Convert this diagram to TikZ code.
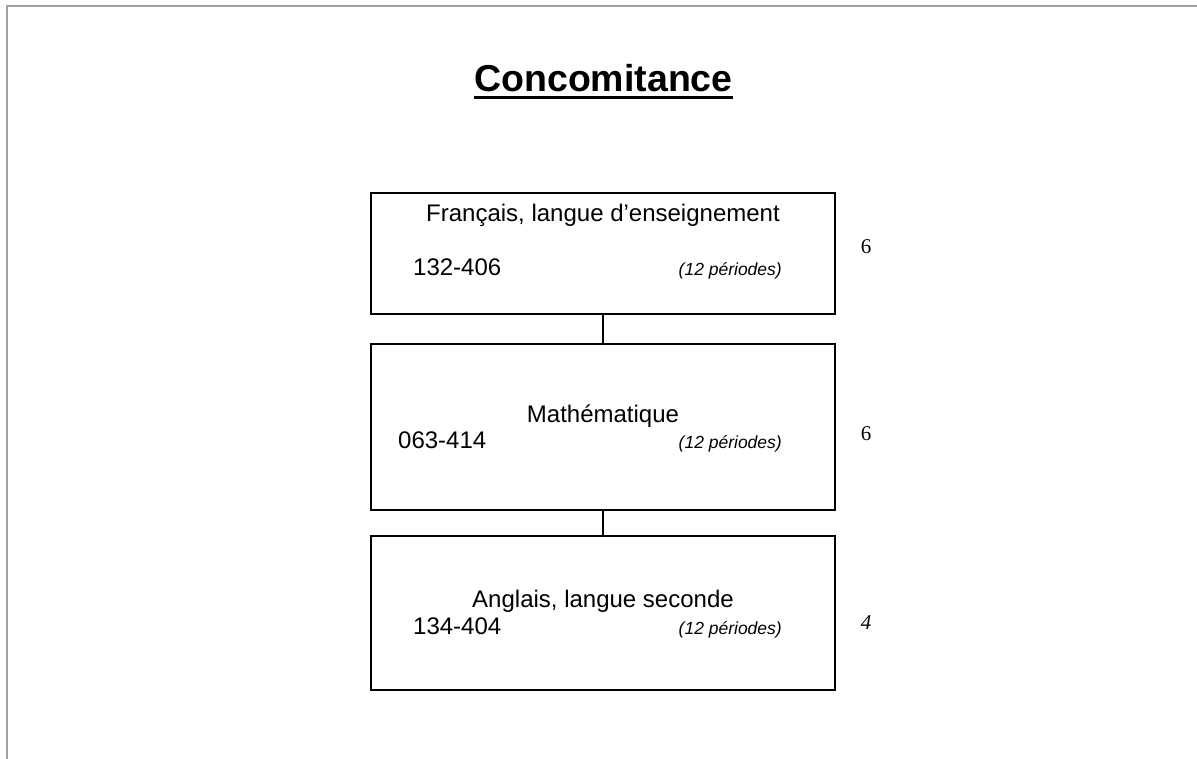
\documentclass[tikz,border=0pt]{standalone}
\usepackage{fontspec}
\setmainfont{Liberation Sans}
\newfontfamily\timesfont{Liberation Serif}
\usepackage{xcolor}
\definecolor{framegray}{HTML}{A0A0A0}
\tikzstyle{course}=[draw, line width=1.5pt, minimum width=464pt, inner sep=0pt]
\tikzstyle{subj}=[inner sep=0pt, anchor=base, font=\fontsize{24}{28}\selectfont]
\tikzstyle{code}=[inner sep=0pt, anchor=base west, font=\fontsize{24}{28}\selectfont]
\tikzstyle{per}=[inner sep=0pt, anchor=base east, font=\fontsize{17.5}{21}\selectfont\itshape]
\tikzstyle{units}=[inner sep=0pt, anchor=base, font=\timesfont\fontsize{21}{25}\selectfont]

\begin{document}
\begin{tikzpicture}[x=1pt,y=-1pt]
\useasboundingbox (0,0) rectangle (1197,759);
\coordinate (c1) at (603,253.5);
\coordinate (c2) at (603,427);
\coordinate (c3) at (603,613);
% frame
\draw[framegray, line width=2pt] (1197,6) -- (6,6);
\draw[framegray, line width=2pt] (7,6) -- (7,759);
% title
\node[inner sep=0pt, anchor=base, font=\fontsize{37.5}{42}\selectfont\bfseries] (title) at (603.5,92) {Concomitance};
\draw[line width=3pt] ([yshift=-5.5pt]title.base west) -- ([yshift=-5.5pt]title.base east);
% boxes
\node[course, minimum height=121pt] (fr) at (c1) {};
\node[course, minimum height=166pt] (ma) at (c2) {};
\node[course, minimum height=154pt] (an) at (c3) {};
\draw[line width=1.5pt] (fr.south) -- (ma.north);
\draw[line width=1.5pt] (ma.south) -- (an.north);
% texts
\node[subj] (frname) at (603,222) {Français, langue d’enseignement};
\node[code] (frcode) at (413,276) {132-406};
\node[per] (frper) at (782,276) {(12 périodes)};
\node[subj] (maname) at (603,422) {Mathématique};
\node[code] (macode) at (398,448) {063-414};
\node[per] (maper) at (782,448) {(12 périodes)};
\node[subj] (anname) at (603,607) {Anglais, langue seconde};
\node[code] (ancode) at (413,634) {134-404};
\node[per] (anper) at (782,634) {(12 périodes)};
% units
\node[units] (fru) at (866,254) {6};
\node[units] (mau) at (866,440) {6};
\node[units] (anu) at (866,629) {\itshape 4};
\end{tikzpicture}
\end{document}
